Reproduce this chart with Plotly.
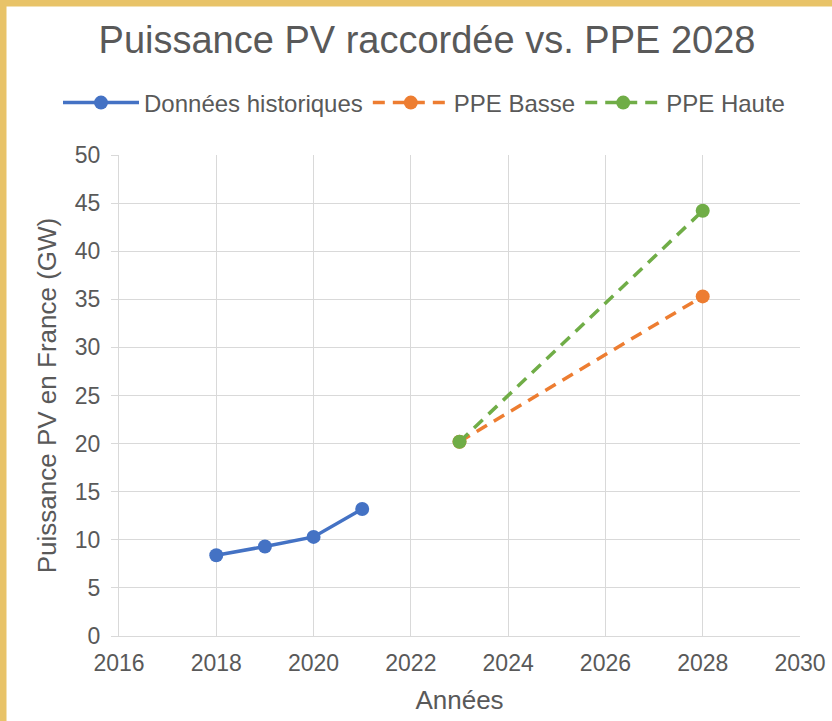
import plotly.graph_objects as go

# Data
hist_years = [2018, 2019, 2020, 2021]
hist_values = [8.4, 9.3, 10.3, 13.2]
basse_years = [2023, 2028]
basse_values = [20.2, 35.3]
haute_years = [2023, 2028]
haute_values = [20.2, 44.2]

series_names = ["Données historiques", "PPE Basse", "PPE Haute"]
colors = ["#4472C4", "#ED7D31", "#70AD47"]

W, H = 832, 721
ML, MR, MT, MB = 119, 32, 155, 85
TXT = "#595959"
GRID = "#D9D9D9"
FONT = "Liberation Sans, Arial, sans-serif"

fig = go.Figure()
fig.add_trace(go.Scatter(x=hist_years, y=hist_values, mode="lines+markers",
                         name=series_names[0],
                         line=dict(color=colors[0], width=3.5),
                         marker=dict(color=colors[0], size=14)))
fig.add_trace(go.Scatter(x=basse_years, y=basse_values, mode="lines+markers",
                         name=series_names[1],
                         line=dict(color=colors[1], width=3.5, dash="12px,8px"),
                         marker=dict(color=colors[1], size=14)))
fig.add_trace(go.Scatter(x=haute_years, y=haute_values, mode="lines+markers",
                         name=series_names[2],
                         line=dict(color=colors[2], width=3.5, dash="12px,8px"),
                         marker=dict(color=colors[2], size=14)))

pw = W - ML - MR
ph = H - MT - MB
gold = "#E8C368"
bw = 6.5
shapes = [
    dict(type="rect", xref="paper", yref="paper", layer="above",
         x0=-ML / pw, x1=(bw - ML) / pw, y0=-MB / ph, y1=(H - MB) / ph,
         fillcolor=gold, line=dict(width=0)),
    dict(type="rect", xref="paper", yref="paper", layer="above",
         x0=-ML / pw, x1=(W - ML) / pw, y0=(H - MB - bw) / ph, y1=(H - MB) / ph,
         fillcolor=gold, line=dict(width=0)),
]

fig.update_layout(
    width=W, height=H,
    margin=dict(l=ML, r=MR, t=MT, b=MB, autoexpand=False),
    paper_bgcolor="white", plot_bgcolor="white",
    font=dict(family=FONT, color=TXT, size=23),
    title=dict(text="Puissance PV raccordée vs. PPE 2028", xref="container", x=427 / W,
               xanchor="center", y=1 - 40 / H, yanchor="middle",
               font=dict(size=38, color=TXT, family=FONT)),
    legend=dict(orientation="h", xref="paper", yref="paper",
                x=(58 - ML) / pw, xanchor="left", y=1 + (MT - 103) / ph, yanchor="middle",
                font=dict(size=24, color=TXT), itemwidth=76, bgcolor="rgba(0,0,0,0)"),
    shapes=shapes,
    showlegend=True,
)
fig.update_xaxes(range=[2016, 2030], dtick=2, tick0=2016, showgrid=True, gridcolor=GRID,
                 gridwidth=1.3, showline=True, linecolor=GRID, linewidth=1.3, zeroline=False,
                 ticks="", tickfont=dict(size=23, color=TXT), ticklabelstandoff=6,
                 automargin=False,
                 title=dict(text="Années", font=dict(size=26, color=TXT), standoff=16))
fig.update_yaxes(range=[0, 50], dtick=5, tick0=0, showgrid=True, gridcolor=GRID,
                 gridwidth=1.3, showline=True, linecolor=GRID, linewidth=1.3, zeroline=False,
                 ticks="outside", ticklen=7, tickcolor=GRID, tickwidth=1.3,
                 tickfont=dict(size=23, color=TXT), ticklabelstandoff=6,
                 automargin=False,
                 title=dict(text="Puissance PV en France (GW)", font=dict(size=26, color=TXT),
                            standoff=10))

fig.write_html("out.html", config={"displayModeBar": False},
               post_script="document.body.style.margin='0';")
